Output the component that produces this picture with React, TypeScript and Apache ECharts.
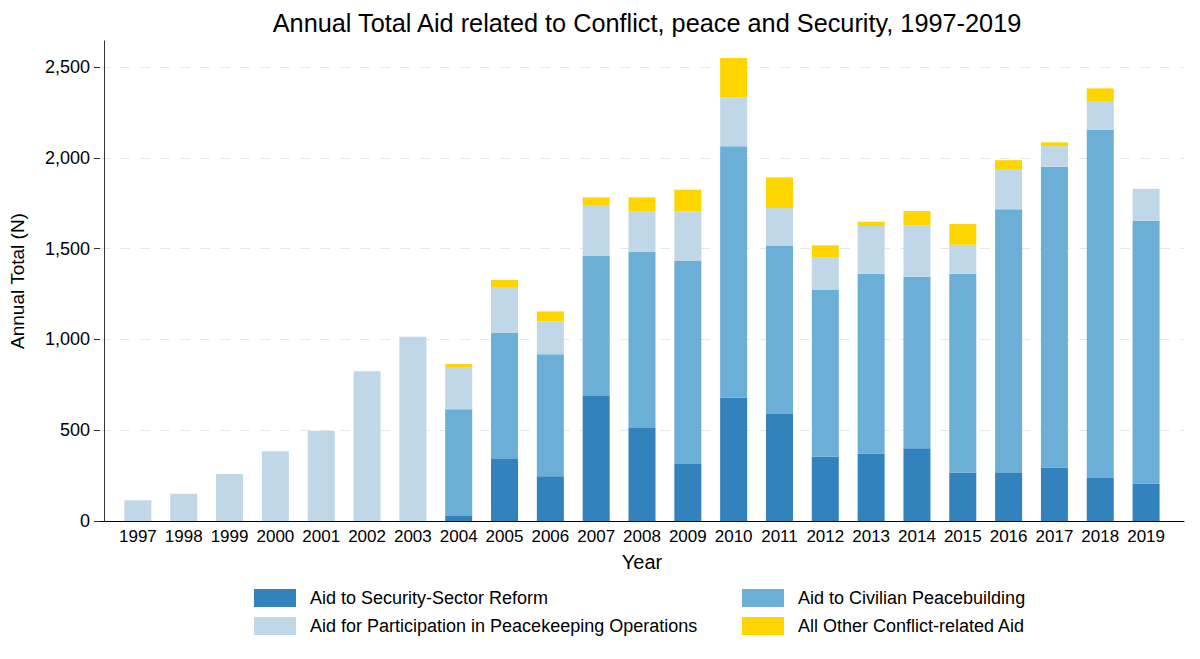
import React, { useEffect, useRef } from "react";
import * as echarts from "echarts";

const years = ["1997","1998","1999","2000","2001","2002","2003","2004","2005","2006","2007","2008","2009","2010","2011","2012","2013","2014","2015","2016","2017","2018","2019"];
const securitySector = [0,0,0,0,0,0,0,28,341,246,688,512,314,679,589,354,372,400,266,264,294,237,206];
const civilian = [0,0,0,0,0,0,0,587,694,672,771,969,1117,1385,925,918,990,945,1096,1452,1657,1917,1447];
const peacekeeping = [114,150,259,384,497,824,1015,231,253,181,281,222,274,268,209,181,262,281,159,222,113,154,176];
const otherAid = [0,0,0,0,0,0,0,18,39,55,42,79,119,217,169,65,24,81,114,49,21,74,0];

const names = [
  "Aid to Security-Sector Reform",
  "Aid to Civilian Peacebuilding",
  "Aid for Participation in Peacekeeping Operations",
  "All Other Conflict-related Aid",
];
const colors = ["#3182bd", "#6baed6", "#bfd7e7", "#ffd500"];

const FONT = "'Liberation Sans', Arial, sans-serif";

export default function App() {
  const ref = useRef<HTMLDivElement>(null);
  useEffect(() => {
    if (!ref.current) return;
    const chart = echarts.init(ref.current, undefined, { renderer: "svg" });
    const seriesData = [securitySector, civilian, peacekeeping, otherAid];
    const legendText = { fontFamily: FONT, fontSize: 18, color: "#000", padding: [0, 0, 0, 9], lineHeight: 18 };
    chart.setOption({
      animation: false,
      backgroundColor: "#ffffff",
      textStyle: { fontFamily: FONT },
      title: {
        text: "Annual Total Aid related to Conflict, peace and Security, 1997-2019",
        left: 642,
        textAlign: "center",
        top: 5,
        textStyle: { fontFamily: FONT, fontSize: 25.3, fontWeight: "normal", color: "#000" },
      },
      legend: [
        {
          orient: "vertical",
          left: 249,
          top: 584,
          itemWidth: 42,
          itemHeight: 18,
          itemGap: 10,
          icon: "rect",
          data: [names[0], names[2]],
          textStyle: legendText,
        },
        {
          orient: "vertical",
          left: 737,
          top: 584,
          itemWidth: 42,
          itemHeight: 18,
          itemGap: 10,
          icon: "rect",
          data: [names[1], names[3]],
          textStyle: legendText,
        },
      ],
      grid: [
        { left: 100, width: 1084, top: 67, bottom: 138 },
        { left: 100, width: 1084, top: 41, bottom: 138 },
        { left: 115, width: 1054, top: 41, bottom: 138 },
      ],
      xAxis: [
        {
          type: "value",
          gridIndex: 0,
          min: 0,
          max: 1,
          axisLine: { show: true, lineStyle: { color: "#000", width: 1 } },
          axisTick: { show: false },
          axisLabel: { show: false },
          splitLine: { show: false },
        },
        {
          type: "value",
          gridIndex: 1,
          min: 0,
          max: 1,
          show: false,
        },
        {
          type: "category",
          gridIndex: 2,
          data: years,
          axisLine: { show: false },
          axisTick: { show: false },
          axisLabel: { fontFamily: FONT, fontSize: 17, color: "#000", margin: 7, interval: 0 },
          name: "Year",
          nameLocation: "middle",
          nameGap: 31,
          nameTextStyle: { fontFamily: FONT, fontSize: 20, color: "#000" },
        },
      ],
      yAxis: [
        {
          type: "value",
          gridIndex: 0,
          min: 0,
          max: 2500,
          interval: 500,
          axisLine: { show: false },
          axisTick: { show: true, length: 6, lineStyle: { color: "#333" } },
          axisLabel: {
            fontFamily: FONT,
            fontSize: 18,
            color: "#000",
            margin: 10,
            formatter: (v: number) => v.toLocaleString("en-US"),
          },
          splitLine: { show: true, lineStyle: { color: "#e6e6e6", type: [10, 10], width: 1 } },
        },
        {
          type: "value",
          gridIndex: 1,
          min: 0,
          max: 2643,
          axisLine: { show: true, lineStyle: { color: "#333", width: 1 } },
          axisTick: { show: false },
          axisLabel: { show: false },
          splitLine: { show: false },
          name: "Annual Total (N)",
          nameLocation: "middle",
          nameGap: 77,
          nameTextStyle: { fontFamily: FONT, fontSize: 19, color: "#000" },
        },
        {
          type: "value",
          gridIndex: 2,
          min: 0,
          max: 2643,
          show: false,
        },
      ],
      series: names.map((n, i) => ({
        name: n,
        type: "bar",
        stack: "total",
        xAxisIndex: 2,
        yAxisIndex: 2,
        barWidth: 27,
        itemStyle: { color: colors[i] },
        data: seriesData[i],
      })),
    });
    return () => chart.dispose();
  }, []);
  return (
    <div
      ref={ref}
      style={{ position: "fixed", left: 0, top: 0, width: 1200, height: 659 }}
    />
  );
}
